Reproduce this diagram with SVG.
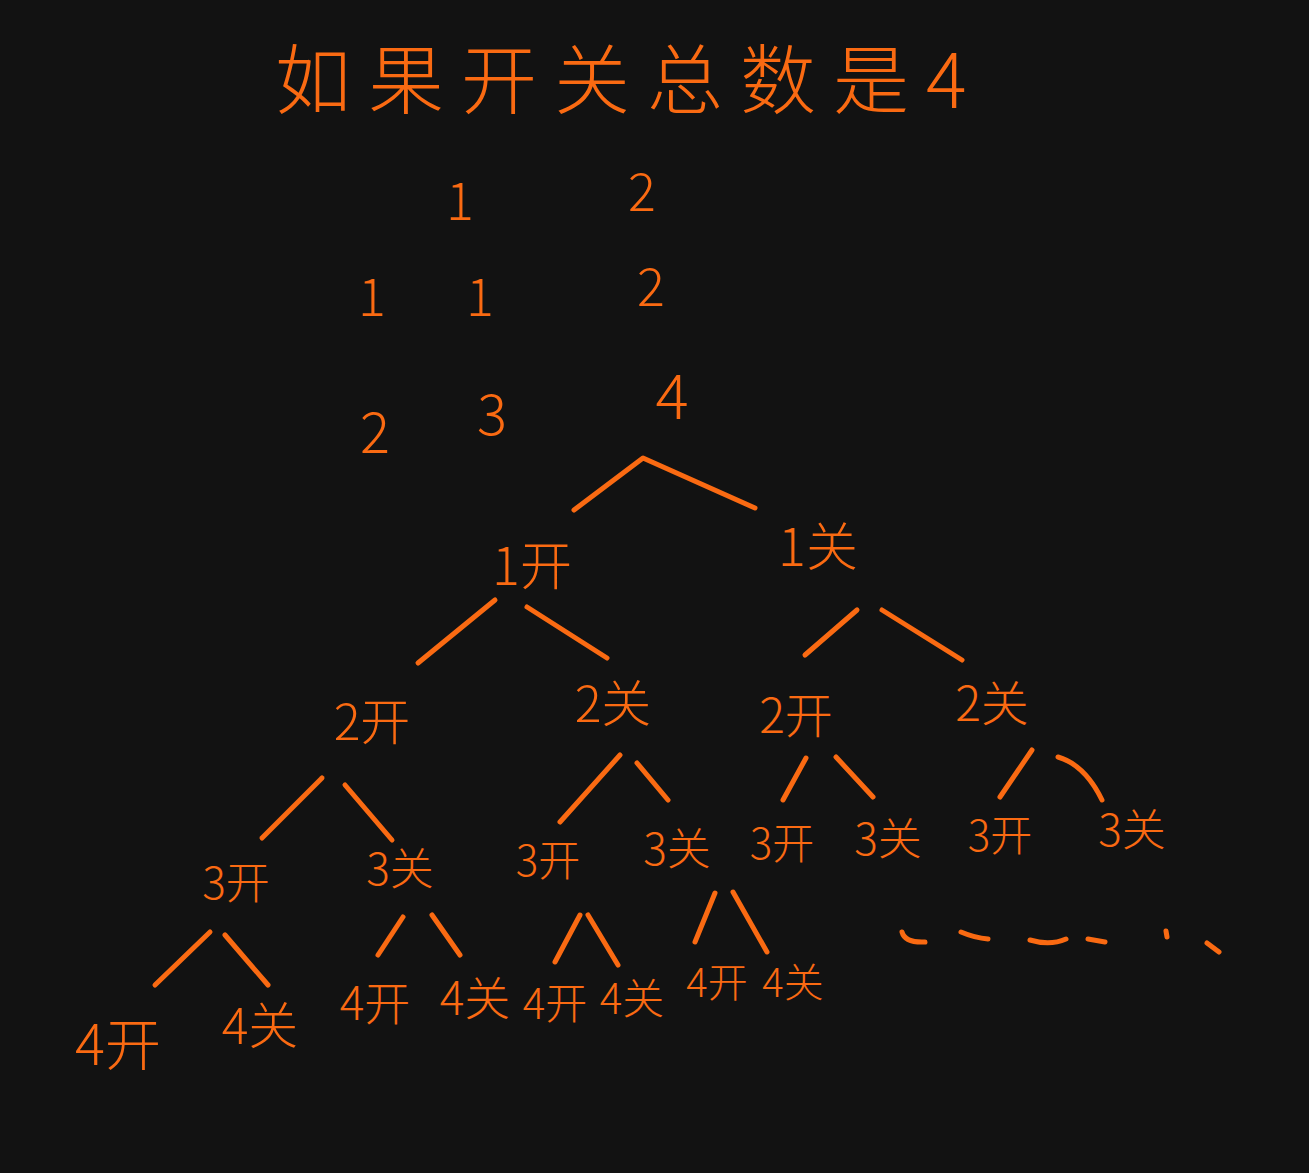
<svg xmlns="http://www.w3.org/2000/svg" width="1309" height="1173" viewBox="0 0 1309 1173">
<style>
.t{font-family:"Noto Sans CJK SC","Liberation Sans",sans-serif;fill:#FA6A12;text-anchor:middle;dominant-baseline:central;font-weight:300}
.e{stroke:#FA6A12;stroke-width:5;fill:none;stroke-linecap:round;stroke-linejoin:round}
</style>
<rect width="1309" height="1173" fill="#121212"/>
<g id="title"><text class="t" x="275" y="75" font-size="76" letter-spacing="17" style="text-anchor:start">如果开关总数是4</text></g>
<g id="numbers">
<text class="t" x="460" y="197" font-size="52">1</text>
<text class="t" x="642" y="188" font-size="52">2</text>
<text class="t" x="372" y="293" font-size="52">1</text>
<text class="t" x="480" y="293" font-size="52">1</text>
<text class="t" x="651" y="283" font-size="52">2</text>
<text class="t" x="375" y="428" font-size="56">2</text>
<text class="t" x="492" y="410" font-size="56">3</text>
<text class="t" x="672" y="392" font-size="62">4</text>
</g>
<g id="connectors" class="e">
<polyline points="574,510 643,458 755,508"/>
<line x1="495" y1="600" x2="418" y2="663"/>
<line x1="527" y1="607" x2="607" y2="658"/>
<line x1="857" y1="610" x2="805" y2="655"/>
<line x1="882" y1="610" x2="962" y2="660"/>
<line x1="322" y1="778" x2="262" y2="838"/>
<line x1="345" y1="785" x2="392" y2="840"/>
<line x1="620" y1="755" x2="560" y2="822"/>
<line x1="637" y1="763" x2="668" y2="800"/>
<line x1="806" y1="758" x2="783" y2="800"/>
<line x1="836" y1="757" x2="873" y2="797"/>
<line x1="1032" y1="750" x2="1000" y2="797"/>
<path d="M1058,757 Q1085,765 1102,800"/>
<line x1="210" y1="932" x2="155" y2="985"/>
<line x1="225" y1="935" x2="268" y2="985"/>
<line x1="403" y1="917" x2="378" y2="955"/>
<line x1="432" y1="915" x2="460" y2="955"/>
<line x1="580" y1="915" x2="555" y2="962"/>
<line x1="588" y1="915" x2="618" y2="965"/>
<line x1="715" y1="893" x2="695" y2="942"/>
<line x1="733" y1="892" x2="767" y2="952"/>
</g>
<g id="ellipsis" class="e" stroke-width="4">
<path d="M902,932 Q905,943 925,942"/>
<path d="M961,932 Q975,938 988,939"/>
<path d="M1030,940 Q1050,946 1066,939"/>
<line x1="1088" y1="939" x2="1105" y2="942"/>
<line x1="1166" y1="931" x2="1167" y2="937"/>
<line x1="1207" y1="943" x2="1219" y2="952"/>
</g>
<g id="n1k"><text class="t" x="532" y="562" font-size="52">1开</text></g>
<g id="n1g"><text class="t" x="818" y="543" font-size="52">1关</text></g>
<g id="n2k-a"><text class="t" x="372" y="718" font-size="50">2开</text></g>
<g id="n2g-a"><text class="t" x="613" y="700" font-size="50">2关</text></g>
<g id="n2k-b"><text class="t" x="796" y="712" font-size="48">2开</text></g>
<g id="n2g-b"><text class="t" x="992" y="700" font-size="48">2关</text></g>
<g id="n3k-a"><text class="t" x="236" y="880" font-size="44">3开</text></g>
<g id="n3g-a"><text class="t" x="400" y="866" font-size="44">3关</text></g>
<g id="n3k-b"><text class="t" x="548" y="857" font-size="42">3开</text></g>
<g id="n3g-b"><text class="t" x="677" y="846" font-size="44">3关</text></g>
<g id="n3k-c"><text class="t" x="782" y="840" font-size="42">3开</text></g>
<g id="n3g-c"><text class="t" x="888" y="836" font-size="44">3关</text></g>
<g id="n3k-d"><text class="t" x="1000" y="832" font-size="42">3开</text></g>
<g id="n3g-d"><text class="t" x="1132" y="827" font-size="44">3关</text></g>
<g id="n4k-a"><text class="t" x="118" y="1040" font-size="56">4开</text></g>
<g id="n4g-a"><text class="t" x="260" y="1022" font-size="50">4关</text></g>
<g id="n4k-b"><text class="t" x="375" y="1000" font-size="46">4开</text></g>
<g id="n4g-b"><text class="t" x="475" y="995" font-size="46">4关</text></g>
<g id="n4k-c"><text class="t" x="555" y="1000" font-size="42">4开</text></g>
<g id="n4g-c"><text class="t" x="632" y="995" font-size="42">4关</text></g>
<g id="n4k-d"><text class="t" x="717" y="980" font-size="40">4开</text></g>
<g id="n4g-d"><text class="t" x="793" y="980" font-size="40">4关</text></g>
</svg>
